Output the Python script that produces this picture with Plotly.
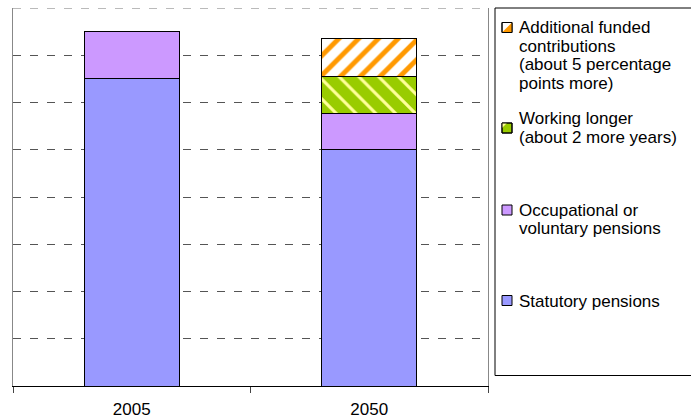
import plotly.graph_objects as go

years = ["2005", "2050"]
statutory = [6.5, 5.0]
occupational = [1.0, 0.77]
working_longer = [None, 0.79]
additional = [None, 0.80]
y_max = 8

legend_labels = {
    "additional": ["Additional funded", "contributions", "(about 5 percentage", "points more)"],
    "working": ["Working longer", "(about 2 more years)"],
    "occupational": ["Occupational or", "voluntary pensions"],
    "statutory": ["Statutory pensions"],
}

W, H = 691, 419
L, R, T, B = 13, 488, 8, 386
FONT = "Liberation Sans, Arial, sans-serif"

def px(x):
    return (x - L) / (R - L)

def py(y):
    return (B - y) / (B - T)

fig = go.Figure()
line = dict(color="black", width=1)
fig.add_bar(x=years, y=statutory, name="Statutory pensions",
            marker=dict(color="#9999FF", line=line), width=0.4)
fig.add_bar(x=years, y=occupational, name="Occupational or voluntary pensions",
            marker=dict(color="#CC99FF", line=line), width=0.4)
fig.add_bar(x=years, y=working_longer, name="Working longer",
            marker=dict(color="#99CC00", line=line,
                        pattern=dict(shape="\\", fgcolor="#FFFF99", bgcolor="#99CC00",
                                     fgopacity=1, size=14, solidity=0.22,
                                     fillmode="replace")), width=0.4)
fig.add_bar(x=years, y=additional, name="Additional funded contributions",
            marker=dict(color="white", line=line,
                        pattern=dict(shape="/", fgcolor="#FF9900", bgcolor="white",
                                     fgopacity=1, size=14, solidity=0.35,
                                     fillmode="replace")), width=0.4)

shapes = []
# top gridline (plotly drops gridlines at the very edge)
shapes.append(dict(type="line", xref="paper", yref="y", x0=0, x1=1, y0=y_max, y1=y_max,
                   line=dict(color="#777", width=1, dash="8px,9px"), layer="below"))
# legend box
shapes.append(dict(type="rect", xref="paper", yref="paper",
                   x0=px(495), x1=px(700), y0=py(375.5), y1=py(8),
                   line=dict(color="black", width=1), fillcolor="white", layer="below"))

def sq(y0, color):
    return dict(type="rect", xref="paper", yref="paper",
                x0=px(502), x1=px(512), y0=py(y0 + 10), y1=py(y0),
                line=dict(color="black", width=1), fillcolor=color)

def tri(points, color):
    path = "M " + " L ".join(f"{px(a)},{py(b)}" for a, b in points) + " Z"
    return dict(type="path", xref="paper", yref="paper", path=path,
                line=dict(width=0), fillcolor=color)

# additional marker: white with orange lower-right half
shapes.append(sq(22.5, "white"))
shapes.append(tri([(512, 22.5), (512, 32.5), (502, 32.5)], "#FF9900"))
shapes.append(sq(22.5, "rgba(0,0,0,0)"))
# working marker: green with light top-left corner
shapes.append(sq(123, "#99CC00"))
shapes.append(tri([(502, 123), (507, 123), (502, 128)], "#FFFF99"))
shapes.append(sq(123, "rgba(0,0,0,0)"))
shapes.append(sq(205, "#CC99FF"))
shapes.append(sq(295.5, "#9999FF"))

annotations = []
baselines = {
    "additional": [33.5, 52, 70.5, 89],
    "working": [124.5, 143.2],
    "occupational": [216.2, 234.6],
    "statutory": [307],
}
for key, lines in legend_labels.items():
    for txt, bl in zip(lines, baselines[key]):
        annotations.append(dict(text=txt, xref="paper", yref="paper",
                                x=px(519), y=py(bl - 5.9), xanchor="left", yanchor="middle",
                                showarrow=False, borderpad=0, borderwidth=0,
                                font=dict(family=FONT, size=17, color="black")))

fig.update_layout(
    width=W, height=H,
    margin=dict(l=L, r=W - R, t=T, b=H - B, pad=0),
    barmode="stack",
    showlegend=False,
    paper_bgcolor="white", plot_bgcolor="white",
    font=dict(family=FONT, size=17, color="black"),
    shapes=shapes,
    annotations=annotations,
    xaxis=dict(type="category", tickson="boundaries", ticks="outside", ticklen=6,
               tickcolor="#444", showline=True, linecolor="black", linewidth=1,
               showgrid=False, automargin=False, tickfont=dict(size=17, family=FONT),
               ticklabelstandoff=8, range=[-0.5, 1.5]),
    yaxis=dict(range=[0, y_max], dtick=1, showticklabels=False, ticks="",
               showgrid=True, gridcolor="#555", griddash="8px,9px", gridwidth=1,
               zeroline=False, showline=True, linecolor="#888", mirror=True,
               automargin=False),
)

fig.write_html("out.html")
